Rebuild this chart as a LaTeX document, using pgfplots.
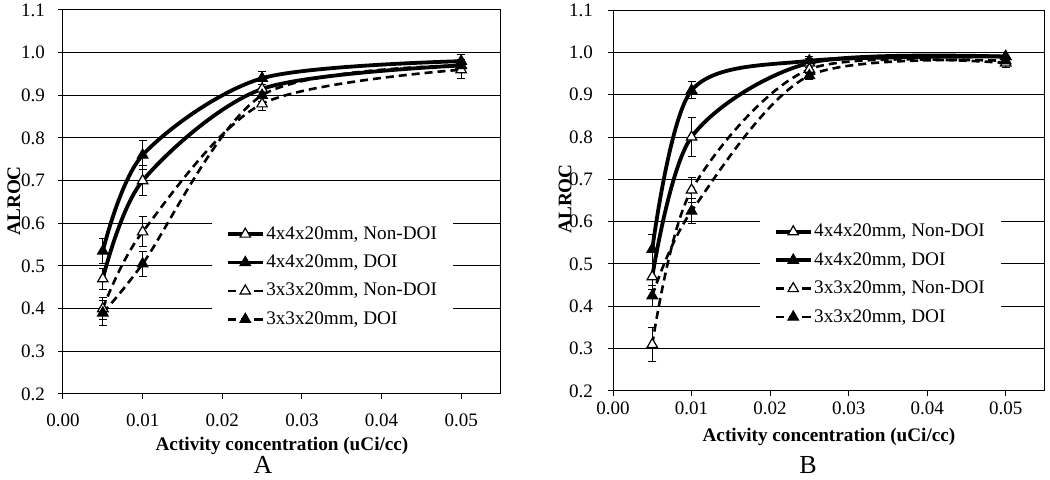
\documentclass[border=0pt]{standalone}
\usepackage{fontspec}
\setmainfont{Liberation Serif}
\usepackage{pgfplots}
\pgfplotsset{compat=1.18}

\pgfplotsset{
  roc/.style={
    scale only axis,
    xmin=0, xmax=0.055, ymin=0.2, ymax=1.1,
    xtick={0,0.01,0.02,0.03,0.04,0.05},
    ytick={0.2,0.3,0.4,0.5,0.6,0.7,0.8,0.9,1.0,1.1},
    scaled x ticks=false, scaled y ticks=false,
    /pgf/number format/assume math mode=true,
    xticklabel style={/pgf/number format/.cd, fixed, fixed zerofill, precision=2},
    yticklabel style={/pgf/number format/.cd, fixed, fixed zerofill, precision=1},
    tick label style={font=\fontsize{9.5}{10}\selectfont},
    ymajorgrids,
    grid style={black, line width=0.5pt},
    axis line style={black, line width=0.5pt},
    tick align=outside, xtick pos=bottom, ytick pos=left,
    major tick length=2.5pt,
    tick style={black, line width=0.5pt},
    label style={font=\fontsize{9.6}{11}\selectfont\bfseries},
    xlabel={Activity concentration (uCi/cc)},
    ylabel={ALROC},
    legend style={draw=none, fill=white, anchor=north west,
      font=\fontsize{9.6}{11}\selectfont,
      inner xsep=7pt, inner ysep=5pt, row sep=3.2pt,
      nodes={inner sep=1pt, text height=7pt, text depth=2pt},
      cells={anchor=west}},
  },
  ebar/.style={
    error bars/y dir=both, error bars/y explicit,
    error bars/error bar style={line width=0.5pt, solid, black},
    error bars/error mark options={rotate=90, mark size=2pt, line width=0.5pt, solid, black},
  },
  s44n/.style={black, line width=1.9pt, smooth, mark=triangle*, mark size=3pt,
    mark options={solid, fill=white, line width=0.6pt}, ebar},
  s44d/.style={black, line width=1.9pt, smooth, mark=triangle*, mark size=3pt,
    mark options={solid, fill=black, line width=0.6pt}, ebar},
  s33n/.style={black, line width=1.3pt, smooth, dash pattern=on 4pt off 2.5pt, mark=triangle*, mark size=3pt,
    mark options={solid, fill=white, line width=0.6pt}, ebar},
  s33d/.style={black, line width=1.3pt, smooth, dash pattern=on 4pt off 2.5pt, mark=triangle*, mark size=3pt,
    mark options={solid, fill=black, line width=0.6pt}, ebar},
}

\begin{document}
\begin{tikzpicture}
\useasboundingbox (0,0) rectangle (525pt,240pt);

% Panel A
\begin{axis}[roc,
  at={(31.5pt,43pt)}, anchor=south west,
  width=219pt, height=192pt,
  xlabel style={at={(axis description cs:0.5,-0.135)}, anchor=center},
  ylabel style={at={(axis description cs:-0.112,0.503)}, anchor=center},
  xticklabel shift=4pt,
  yticklabel shift=3pt,
  legend style={at={(axis description cs:0.34,0.472)}},
]
\addplot[s44n] coordinates {(0.005,0.47) +- (0,0.025) (0.01,0.70) +- (0,0.035) (0.025,0.915) +- (0,0.02) (0.05,0.97) +- (0,0.015)};
\addlegendentry{4x4x20mm, Non-DOI}
\addplot[s44d] coordinates {(0.005,0.535) +- (0,0.03) (0.01,0.76) +- (0,0.035) (0.025,0.94) +- (0,0.015) (0.05,0.98) +- (0,0.015)};
\addlegendentry{4x4x20mm, DOI}
\addplot[s33n] coordinates {(0.005,0.40) +- (0,0.025) (0.01,0.58) +- (0,0.035) (0.025,0.88) +- (0,0.015) (0.05,0.96) +- (0,0.02)};
\addlegendentry{3x3x20mm, Non-DOI}
\addplot[s33d] coordinates {(0.005,0.39) +- (0,0.03) (0.01,0.505) +- (0,0.03) (0.025,0.90) +- (0,0.015) (0.05,0.97) +- (0,0.015)};
\addlegendentry{3x3x20mm, DOI}
\end{axis}

% Panel B
\begin{axis}[roc,
  at={(306.5pt,44.5pt)}, anchor=south west,
  width=216pt, height=190.5pt,
  xlabel style={at={(axis description cs:0.5,-0.12)}, anchor=center},
  ylabel style={at={(axis description cs:-0.111,0.504)}, anchor=center},
  yticklabel shift=4pt,
  xticklabel shift=-0.5pt,
  legend style={at={(axis description cs:0.34,0.474)}},
]
\addplot[s44n] coordinates {(0.005,0.47) +- (0,0.03) (0.01,0.80) +- (0,0.045) (0.025,0.975) +- (0,0.01) (0.05,0.99) +- (0,0.01)};
\addlegendentry{4x4x20mm, Non-DOI}
\addplot[s44d] coordinates {(0.005,0.535) +- (0,0.035) (0.01,0.91) +- (0,0.02) (0.025,0.98) +- (0,0.01) (0.05,0.99) +- (0,0.01)};
\addlegendentry{4x4x20mm, DOI}
\addplot[s33n] coordinates {(0.005,0.31) +- (0,0.04) (0.01,0.675) +- (0,0.03) (0.025,0.96) +- (0,0.01) (0.05,0.975) +- (0,0.01)};
\addlegendentry{3x3x20mm, Non-DOI}
\addplot[s33d] coordinates {(0.005,0.425) +- (0,0.025) (0.01,0.625) +- (0,0.03) (0.025,0.945) +- (0,0.01) (0.05,0.98) +- (0,0.01)};
\addlegendentry{3x3x20mm, DOI}
\end{axis}

\node[font=\fontsize{13}{15}\selectfont, inner sep=0pt, anchor=base] at (131.5pt,3pt) {A};
\node[font=\fontsize{13}{15}\selectfont, inner sep=0pt, anchor=base] at (404pt,3pt) {B};
\end{tikzpicture}
\end{document}
